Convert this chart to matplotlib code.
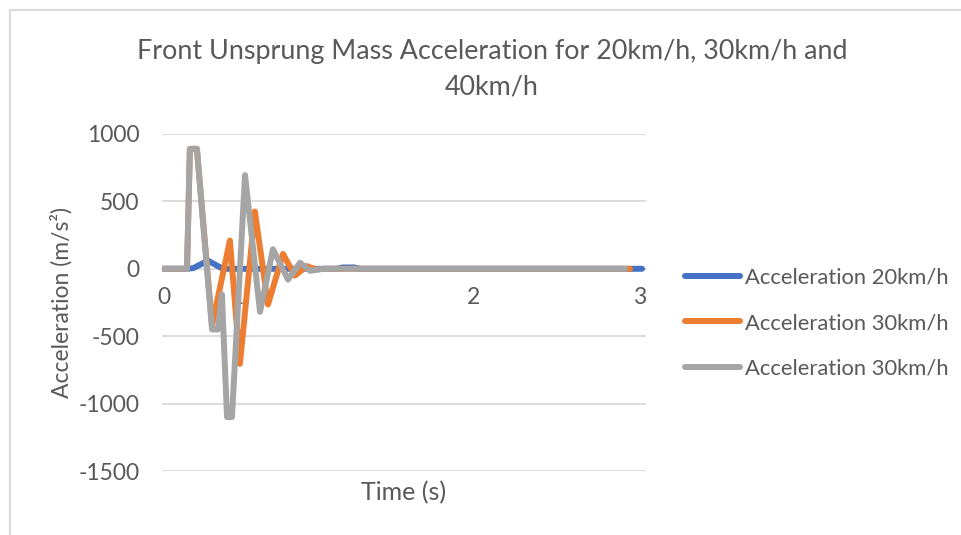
import matplotlib
matplotlib.use("Agg")
import matplotlib.pyplot as plt
from matplotlib.lines import Line2D

plt.rcParams['font.family'] = ['Lato', 'DejaVu Sans']

# ---- data ----
t_20 = [0, 0.151, 0.19, 0.282, 0.377, 1.09, 1.13, 1.20, 1.24, 3.006]
a_20 = [0, 0, 5, 60, 0, 0, 10, 10, 0, 0]

t_30 = [0, 0.151, 0.169, 0.213, 0.308, 0.42, 0.483, 0.577, 0.659, 0.753,
        0.828, 0.904, 0.96, 1.02, 2.931]
a_30 = [0, 0, 890, 890, -420, 210, -705, 425, -265, 110, -50, 20, -5, 0, 0]

t_40 = [0, 0.151, 0.169, 0.213, 0.308, 0.345, 0.370, 0.402, 0.433, 0.515,
        0.609, 0.690, 0.785, 0.860, 0.923, 1.0, 2.900]
a_40 = [0, 0, 890, 890, -450, -450, -190, -1100, -1100, 695,
        -320, 145, -80, 45, -15, 0, 0]

series_labels = ["Acceleration 20km/h", "Acceleration 30km/h", "Acceleration 30km/h"]
series_colors = ["#4472C4", "#ED7D31", "#A5A5A5"]

x_tick_pos = [0.006, 0.464, 1.946, 2.994]
x_tick_labels = ["0", "1", "2", "3"]
y_ticks = [-1500, -1000, -500, 0, 500, 1000]

title = "Front Unsprung Mass Acceleration for 20km/h, 30km/h and\n40km/h"

# ---- figure ----
W, H = 962, 535
fig = plt.figure(figsize=(W / 100, H / 100), dpi=100)

def fx(px):
    return px / W

def fy(py):
    return 1 - py / H

left, right, top, bottom = 162, 646, 134, 471
ax = fig.add_axes([fx(left), fy(bottom), (right - left) / W, (bottom - top) / H])

txt = "#595959"
grid = "#D9D9D9"

for t, a, lab, col in zip([t_20, t_30, t_40], [a_20, a_30, a_40], series_labels, series_colors):
    ax.plot(t, a, color=col, lw=4.3, label=lab, solid_joinstyle='round',
            solid_capstyle='round', zorder=3)

ax.set_xlim(-0.006, 3.031)
ax.set_ylim(-1500, 1000)
ax.set_yticks(y_ticks)
ax.set_yticklabels([str(v) for v in y_ticks])
ax.grid(axis='y', color=grid, lw=1.3, zorder=0)
ax.set_axisbelow(True)
for s in ['top', 'right', 'left']:
    ax.spines[s].set_visible(False)
ax.spines['bottom'].set_position(('data', 0))
ax.spines['bottom'].set_color(grid)
ax.spines['bottom'].set_linewidth(1.3)
ax.set_xticks(x_tick_pos)
ax.set_xticklabels(x_tick_labels)
ax.tick_params(axis='x', length=0, pad=13, labelsize=16.5, labelcolor=txt)
ax.tick_params(axis='y', length=0, pad=16, labelsize=16.5, labelcolor=txt)

ax.set_xlabel("Time (s)", fontsize=18, color=txt)
ax.xaxis.set_label_coords(0.5, -0.031)
ax.set_ylabel("Acceleration (m/s²)", fontsize=16.5, color=txt)
ax.yaxis.set_label_coords(-0.184, 0.5)

fig.text(fx(492), fy(69), title, ha='center', va='center', fontsize=19.4,
         color=txt, linespacing=1.5)

handles = [Line2D([0], [0], color=c, lw=4.3, solid_capstyle='round') for c in series_colors]
fig.legend(handles, series_labels, loc='center left',
           bbox_to_anchor=(fx(685), fy(323)), frameon=False, fontsize=15.8,
           labelcolor=txt, handlelength=2.5, handletextpad=0.23, labelspacing=1.15,
           borderpad=0, borderaxespad=0)

# chart border
fig.add_artist(Line2D([fx(9.5), fx(9.5)], [fy(10), 0], color=grid, lw=1.5))
fig.add_artist(Line2D([fx(9.5), 1], [fy(10), fy(10)], color=grid, lw=1.5))

fig.savefig("out.png", dpi=100)
